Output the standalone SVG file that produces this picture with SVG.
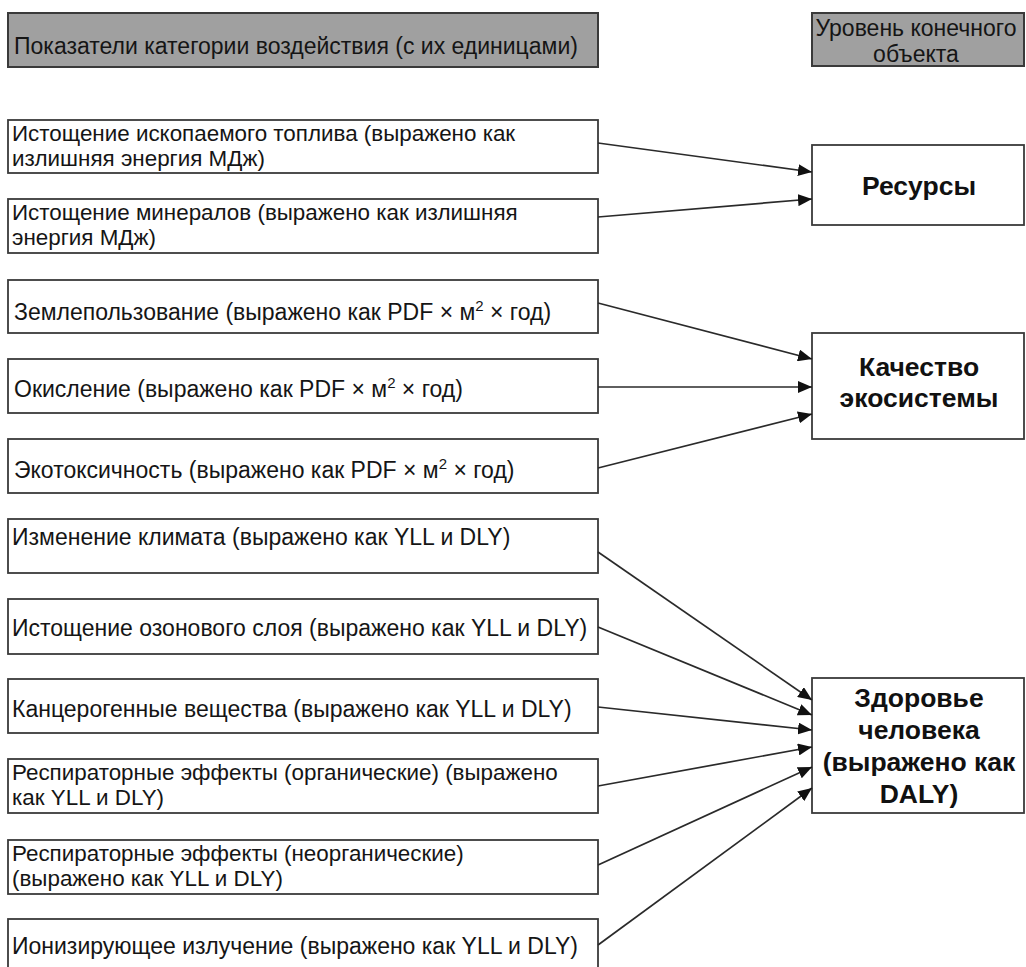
<svg xmlns="http://www.w3.org/2000/svg" width="1026" height="967" viewBox="0 0 1026 967">
<defs>
<style>
.hdr{fill:#a0a0a0;stroke:#3a3a3a;stroke-width:2}
.box{fill:#fff;stroke:#3a3a3a;stroke-width:1.8}
.t{font-family:"Liberation Sans",Arial,sans-serif;font-size:23px;fill:#151515}
.t2{font-family:"Liberation Sans",Arial,sans-serif;font-size:22.4px;fill:#151515}
.big{font-family:"Liberation Sans",Arial,sans-serif;font-size:26.5px;font-weight:bold;fill:#111;text-anchor:middle}
.c{text-anchor:middle}
.ln{stroke:#2a2a2a;stroke-width:1.7;fill:none;marker-end:url(#ah)}
</style>
<marker id="ah" markerUnits="userSpaceOnUse" markerWidth="14" markerHeight="12" viewBox="0 0 14 12" refX="14" refY="6" orient="auto">
<path d="M0,0 L14,6 L0,12 Z" fill="#111"/>
</marker>
</defs>
<rect width="1026" height="967" fill="#fff"/>
<g id="header-left">
<rect class="hdr" x="8" y="13" width="590" height="54"/>
<text class="t" x="14" y="54" font-size="23.8">Показатели категории воздействия (с их единицами)</text>
</g>
<g id="header-right">
<rect class="hdr" x="812" y="13" width="212" height="53"/>
<text class="t c" x="916" y="36">Уровень конечного</text>
<text class="t c" x="916" y="62">объекта</text>
</g>
<g id="n1"><rect class="box" x="8" y="120" width="590" height="53"/>
<text class="t2" x="12" y="140.5">Истощение ископаемого топлива (выражено как</text>
<text class="t2" x="12" y="166">излишняя энергия МДж)</text></g>
<g id="n2"><rect class="box" x="8" y="199" width="590" height="54"/>
<text class="t2" x="12" y="219.5">Истощение минералов (выражено как излишняя</text>
<text class="t2" x="12" y="245">энергия МДж)</text></g>
<g id="n3"><rect class="box" x="8" y="280" width="590" height="53"/>
<text class="t" x="14" y="320">Землепользование (выражено как PDF × м<tspan font-size="15" dy="-9">2</tspan><tspan dy="9"> × год)</tspan></text></g>
<g id="n4"><rect class="box" x="8" y="359" width="590" height="54"/>
<text class="t" x="14" y="397">Окисление (выражено как PDF × м<tspan font-size="15" dy="-9">2</tspan><tspan dy="9"> × год)</tspan></text></g>
<g id="n5"><rect class="box" x="8" y="439" width="590" height="54"/>
<text class="t" x="14" y="478">Экотоксичность (выражено как PDF × м<tspan font-size="15" dy="-9">2</tspan><tspan dy="9"> × год)</tspan></text></g>
<g id="n6"><rect class="box" x="8" y="519" width="590" height="54"/>
<text class="t" x="12" y="545">Изменение климата (выражено как YLL и DLY)</text></g>
<g id="n7"><rect class="box" x="8" y="599" width="590" height="55"/>
<text class="t" x="12" y="636">Истощение озонового слоя (выражено как YLL и DLY)</text></g>
<g id="n8"><rect class="box" x="8" y="679" width="590" height="54"/>
<text class="t" x="12" y="717">Канцерогенные вещества (выражено как YLL и DLY)</text></g>
<g id="n9"><rect class="box" x="8" y="759" width="590" height="54"/>
<text class="t2" x="12" y="779.5">Респираторные эффекты (органические) (выражено</text>
<text class="t2" x="12" y="805">как YLL и DLY)</text></g>
<g id="n10"><rect class="box" x="8" y="840" width="590" height="54"/>
<text class="t2" x="12" y="860.5">Респираторные эффекты (неорганические)</text>
<text class="t2" x="12" y="886">(выражено как YLL и DLY)</text></g>
<g id="n11"><rect class="box" x="8" y="919" width="590" height="60"/>
<text class="t" x="12" y="954">Ионизирующее излучение (выражено как YLL и DLY)</text></g>
<g id="resources"><rect class="box" x="812" y="145" width="212" height="80"/>
<text class="big" x="919" y="195">Ресурсы</text></g>
<g id="ecosystem"><rect class="box" x="812" y="333" width="212" height="106"/>
<text class="big" x="919" y="376">Качество</text>
<text class="big" x="919" y="407">экосистемы</text></g>
<g id="health"><rect class="box" x="812" y="678" width="212" height="135"/>
<text class="big" x="919" y="707">Здоровье</text>
<text class="big" x="919" y="739">человека</text>
<text class="big" x="919" y="771">(выражено как</text>
<text class="big" x="919" y="803">DALY)</text></g>
<g id="connectors">
<line class="ln" x1="598" y1="143" x2="812" y2="172"/>
<line class="ln" x1="598" y1="217" x2="812" y2="199"/>
<line class="ln" x1="598" y1="303" x2="812" y2="359"/>
<line class="ln" x1="598" y1="387" x2="812" y2="387"/>
<line class="ln" x1="598" y1="468" x2="812" y2="414"/>
<line class="ln" x1="598" y1="552" x2="812" y2="700"/>
<line class="ln" x1="598" y1="627" x2="812" y2="715"/>
<line class="ln" x1="598" y1="707" x2="812" y2="730"/>
<line class="ln" x1="598" y1="786" x2="812" y2="747"/>
<line class="ln" x1="598" y1="865" x2="812" y2="767"/>
<line class="ln" x1="598" y1="945" x2="812" y2="788"/>
</g>
</svg>
